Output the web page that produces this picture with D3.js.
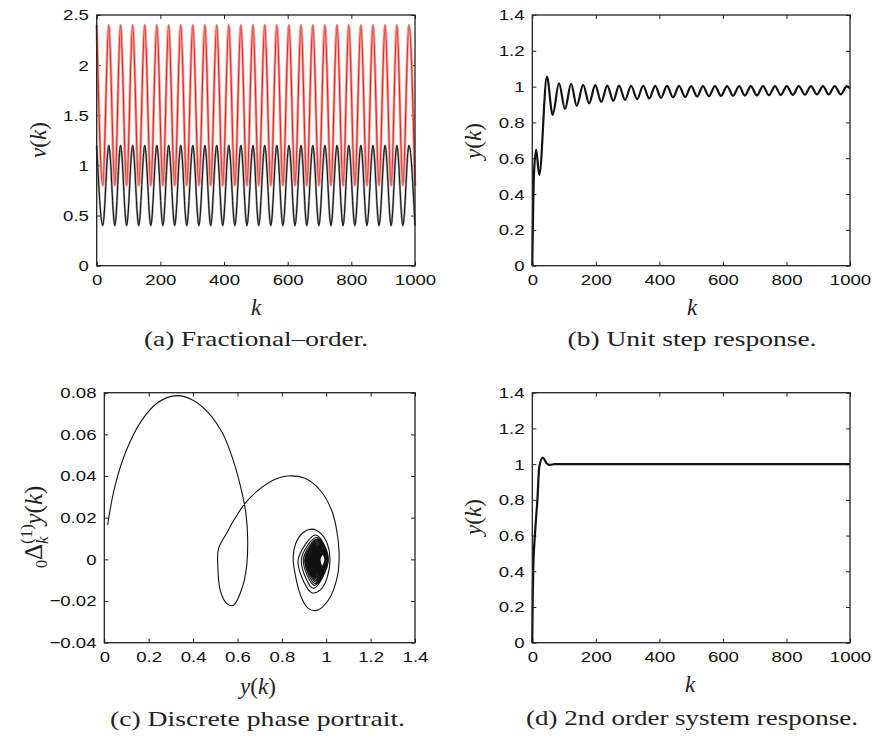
<!DOCTYPE html>
<html>
<head>
<meta charset="utf-8">
<script src="https://cdn.jsdelivr.net/npm/d3@7"></script>
<style>
  body { margin: 0; background: #fff; }
  svg { display: block; }
  .tick text { font-family: "Liberation Sans", Arial, sans-serif; font-size: 15.5px; fill: #111; }
  .tick line { stroke: #222; }
  .lbl { font-family: "Liberation Serif", "Times New Roman", serif; font-size: 23px; fill: #222; }
  .cap { font-family: "Liberation Serif", "Times New Roman", serif; font-size: 21px; fill: #222; }
</style>
</head>
<body>
<svg width="878" height="742"></svg>
<script>
// (a) fractional order: extrema of the two oscillating orders
var fracK = [0,19,38,57,75,94,113,132,151,170,189,208,226,245,264,283,302,321,340,358,
             377,396,415,434,453,472,491,509,528,547,566,585,604,623,642,660,679,698,717,736,
             755,774,792,811,830,849,868,887,906,925,943,962,981,1000];
var nuRed = [2.4,0.8,2.4,0.8,2.4,0.8,2.4,0.8,2.4,0.8,2.4,0.8,2.4,0.8,2.4,0.8,2.4,0.8,2.4,0.8,
             2.4,0.8,2.4,0.8,2.4,0.8,2.4,0.8,2.4,0.8,2.4,0.8,2.4,0.8,2.4,0.8,2.4,0.8,2.4,0.8,
             2.4,0.8,2.4,0.8,2.4,0.8,2.4,0.8,2.4,0.8,2.4,0.8,2.4,0.8];
var nuBlack = [1.2,0.4,1.2,0.4,1.2,0.4,1.2,0.4,1.2,0.4,1.2,0.4,1.2,0.4,1.2,0.4,1.2,0.4,1.2,0.4,
               1.2,0.4,1.2,0.4,1.2,0.4,1.2,0.4,1.2,0.4,1.2,0.4,1.2,0.4,1.2,0.4,1.2,0.4,1.2,0.4,
               1.2,0.4,1.2,0.4,1.2,0.4,1.2,0.4,1.2,0.4,1.2,0.4,1.2,0.4];

// (b) unit step response
var stepK = [0,5,12,22,46,64,84,103,122,140,160,179,198,217,236,255,273,292,311,330,
             349,368,387,405,424,443,462,481,500,519,537,556,575,594,613,632,651,669,688,707,
             726,745,764,782,801,820,839,858,877,896,915,933,952,971,990,1000];
var stepY = [0,0.5,0.648,0.507,1.056,0.842,1.019,0.875,1.015,0.893,1.01,0.906,1.008,0.915,1.006,0.921,
             1.006,0.926,1.005,0.93,1.005,0.934,1.004,0.937,1.004,0.94,1.004,0.942,1.003,0.944,
             1.003,0.946,1.003,0.948,1.003,0.949,1.003,0.95,1.003,0.951,1.003,0.952,1.003,0.953,
             1.003,0.954,1.003,0.955,1.003,0.956,1.003,0.956,1.003,0.957,1.003,0.99];

// (c) phase portrait, outer trajectory
var phaseX = [0.015,0.048,0.1,0.168,0.243,0.326,0.398,0.472,0.533,0.578,0.614,0.638,0.646,0.641,0.623,
              0.581,0.551,0.524,0.511,0.515,0.551,0.589,0.634,0.686,0.762,0.825,0.904,0.972,1.024,
              1.047,1.058,1.05,1.01,0.957,0.919,0.889,0.862,0.851,0.862,0.895,0.935,0.975,1.005,
              1.017,1.005,0.975,0.935,0.9];
var phaseY = [0.0165,0.0352,0.0525,0.0666,0.0754,0.0786,0.0765,0.070,0.0605,0.0485,0.0349,0.0221,0.0096,
              -0.0035,-0.0131,-0.0221,-0.0211,-0.0155,-0.0019,0.0053,0.0125,0.0197,0.0269,0.0325,
              0.0381,0.040,0.0389,0.0333,0.0237,0.0141,0.0029,-0.0083,-0.0195,-0.0245,-0.0235,
              -0.0185,-0.0083,0.001,0.0075,0.0128,0.0145,0.0125,0.0075,0.0005,-0.0085,-0.0145,-0.016,-0.011];
// (c) inner spiral: left, top, right, bottom of each loop
var loopL = [0.874,0.888,0.897,0.903,0.908,0.913,0.918,0.922,0.926,0.93,0.934,0.937,0.94,0.943,0.946,0.949,
             0.951,0.953,0.955,0.957,0.959,0.961,0.963,0.965,0.966,0.967,0.968,0.969,0.97,0.971,0.972];
var loopT = [0.0117,0.0105,0.0097,0.0091,0.0086,0.0081,0.0076,0.0071,0.0067,0.0063,0.0059,0.0056,0.0053,0.005,
             0.0047,0.0044,0.0042,0.004,0.0038,0.0036,0.0034,0.0032,0.0031,0.003,0.0029,0.0028,0.0027,0.0026,
             0.0025,0.0025,0.0024];
var loopR = [1.01,1.007,1.005,1.004,1.003,1.002,1.001,1.0,0.9995,0.999,0.9985,0.998,0.9975,0.997,0.9965,0.996,
             0.9957,0.9954,0.9951,0.9948,0.9946,0.9944,0.9942,0.994,0.994,0.994,0.994,0.994,0.994,0.994,0.994];
var loopB = [-0.0139,-0.0125,-0.0116,-0.0109,-0.0103,-0.0097,-0.0091,-0.0086,-0.0081,-0.0076,-0.0072,-0.0068,
             -0.0064,-0.0061,-0.0058,-0.0055,-0.0052,-0.005,-0.0048,-0.0046,-0.0044,-0.0042,-0.0041,-0.004,
             -0.0039,-0.0038,-0.0037,-0.0036,-0.0035,-0.0035,-0.0034];

// (d) 2nd order system response
var sysK = [0,1,3,8.5,16,22,33,45,55,70,1000];
var sysY = [0,0.2,0.41,0.61,0.8,0.985,1.036,1.005,0.996,1.0,1.0];

var kTicks = [0,200,400,600,800,1000];
var nuTicks = [0,0.5,1,1.5,2,2.5];
var yTicks = [0,0.2,0.4,0.6,0.8,1,1.2,1.4];
var phXTicks = [0,0.2,0.4,0.6,0.8,1,1.2,1.4];
var phYTicks = [-0.04,-0.02,0,0.02,0.04,0.06,0.08];

var svg = d3.select("svg");
svg.append("rect").attr("width", 878).attr("height", 742).attr("fill", "#fff");

var fmt = d3.format("~g");
var fmtPh = function(d) { return d === 0 ? "0" : d3.format(".2f")(d); };

function panel(box, xDom, yDom, xt, yt, xf, yf) {
  var x = d3.scaleLinear().domain(xDom).range([box.x0, box.x1]);
  var y = d3.scaleLinear().domain(yDom).range([box.y1, box.y0]);
  var g = svg.append("g");
  g.append("g").attr("transform", "translate(0," + box.y1 + ")")
    .call(d3.axisBottom(x).tickValues(xt).tickFormat(xf).tickSize(-4).tickPadding(8));
  g.append("g").attr("transform", "translate(" + box.x0 + ",0)")
    .call(d3.axisLeft(y).tickValues(yt).tickFormat(yf).tickSize(-4).tickPadding(6.5));
  g.append("g").attr("transform", "translate(0," + box.y0 + ")")
    .call(d3.axisTop(x).tickValues(xt).tickFormat("").tickSize(-4));
  g.append("g").attr("transform", "translate(" + box.x1 + ",0)")
    .call(d3.axisRight(y).tickValues(yt).tickFormat("").tickSize(-4));
  g.selectAll(".domain").remove();
  g.selectAll(".tick text").attr("transform", "scale(1.2,1)");
  return { x: x, y: y, g: g, box: box };
}

function frame(p) {
  p.g.append("rect")
    .attr("x", p.box.x0).attr("y", p.box.y0)
    .attr("width", p.box.x1 - p.box.x0).attr("height", p.box.y1 - p.box.y0)
    .attr("fill", "none").attr("stroke", "#222").attr("stroke-width", 1.3);
}

function mathLabel(x, y, rot, parts) {
  var t = svg.append("text").attr("class", "lbl").attr("text-anchor", "middle")
    .attr("transform", "translate(" + x + "," + y + ")" + (rot ? " rotate(-90)" : ""));
  parts.forEach(function(p) {
    t.append("tspan").text(p[0]).attr("font-style", p[1] ? "italic" : "normal");
  });
  return t;
}

function caption(x, y, txt, len) {
  svg.append("text").attr("class", "cap").attr("text-anchor", "middle")
    .attr("x", x).attr("y", y).attr("textLength", len).attr("lengthAdjust", "spacingAndGlyphs")
    .text(txt);
}

// ---- (a)
var pa = panel({ x0: 96.7, x1: 415, y0: 15, y1: 265.7 }, [0, 1000], [0, 2.5], kTicks, nuTicks, fmt, fmt);
var lineA = function(vals) {
  return d3.line().curve(d3.curveMonotoneX)
    .x(function(d, i) { return pa.x(fracK[i]); })
    .y(function(d) { return pa.y(d); })(vals);
};
pa.g.append("path").attr("d", lineA(nuRed)).attr("fill", "none").attr("stroke", "#f0a19d").attr("stroke-width", 2.8);
pa.g.append("path").attr("d", lineA(nuRed)).attr("fill", "none").attr("stroke", "#e0251e").attr("stroke-width", 1.1);
pa.g.append("path").attr("d", lineA(nuBlack)).attr("fill", "none").attr("stroke", "#9a9a9a").attr("stroke-width", 2.2);
pa.g.append("path").attr("d", lineA(nuBlack)).attr("fill", "none").attr("stroke", "#111").attr("stroke-width", 1);
frame(pa);
mathLabel(256, 315, false, [["k", true]]);
mathLabel(46, 140, true, [["ν", true], ["(", false], ["k", true], [")", false]]);
caption(256, 346, "(a) Fractional–order.", 224);

// ---- (b)
var pb = panel({ x0: 532.3, x1: 850, y0: 15, y1: 265.7 }, [0, 1000], [0, 1.4], kTicks, yTicks, fmt, fmt);
pb.g.append("path")
  .attr("d", d3.line().curve(d3.curveMonotoneX)
    .x(function(d, i) { return pb.x(stepK[i]); })
    .y(function(d) { return pb.y(d); })(stepY))
  .attr("fill", "none").attr("stroke", "#111").attr("stroke-width", 2.2);
frame(pb);
mathLabel(692, 315, false, [["k", true]]);
mathLabel(481, 141, true, [["y", true], ["(", false], ["k", true], [")", false]]);
caption(692, 346, "(b) Unit step response.", 249);

// ---- (c)
var pc = panel({ x0: 104.3, x1: 415, y0: 392.7, y1: 642.7 }, [0, 1.4], [-0.04, 0.08], phXTicks, phYTicks, fmt, fmtPh);
var pts = phaseX.map(function(v, i) { return [v, phaseY[i]]; });
loopL.forEach(function(l, i) {
  var r = loopR[i];
  pts.push([l, 0]);
  pts.push([l + (r - l) * 0.58, loopT[i]]);
  pts.push([r, 0]);
  pts.push([l + (r - l) * 0.5, loopB[i]]);
});
pc.g.append("path")
  .attr("d", d3.line().curve(d3.curveCatmullRom.alpha(0.5))
    .x(function(d) { return pc.x(d[0]); })
    .y(function(d) { return pc.y(d[1]); })(pts))
  .attr("fill", "none").attr("stroke", "#111").attr("stroke-width", 1.1);
frame(pc);
mathLabel(258, 694, false, [["y", true], ["(", false], ["k", true], [")", false]]);
// rotated 0Δk^(1) y(k)
var tc = svg.append("text").attr("class", "lbl").attr("text-anchor", "start")
  .attr("transform", "translate(42,568) rotate(-90)");
tc.append("tspan").text("0").attr("font-size", 16).attr("dy", 5);
tc.append("tspan").text("Δ").attr("font-size", 25).attr("dy", -5);
tc.append("tspan").text("(1)").attr("font-size", 17).attr("dy", -10);
tc.append("tspan").text("k").attr("font-size", 17).attr("font-style", "italic").attr("dx", -20).attr("dy", 16);
tc.append("tspan").text("y").attr("font-size", 25).attr("font-style", "italic").attr("dx", 12).attr("dy", -6);
tc.append("tspan").text("(").attr("font-size", 25);
tc.append("tspan").text("k").attr("font-size", 25).attr("font-style", "italic");
tc.append("tspan").text(")").attr("font-size", 25);
caption(257.5, 726, "(c) Discrete phase portrait.", 295);

// ---- (d)
var pd = panel({ x0: 532.3, x1: 850, y0: 392.7, y1: 642.7 }, [0, 1000], [0, 1.4], kTicks, yTicks, fmt, fmt);
pd.g.append("path")
  .attr("d", d3.line().curve(d3.curveMonotoneX)
    .x(function(d, i) { return pd.x(sysK[i]); })
    .y(function(d) { return pd.y(d); })(sysY))
  .attr("fill", "none").attr("stroke", "#111").attr("stroke-width", 2.2);
frame(pd);
mathLabel(690, 692, false, [["k", true]]);
mathLabel(481, 517, true, [["y", true], ["(", false], ["k", true], [")", false]]);
caption(692, 725, "(d) 2nd order system response.", 332);
</script>
</body>
</html>
